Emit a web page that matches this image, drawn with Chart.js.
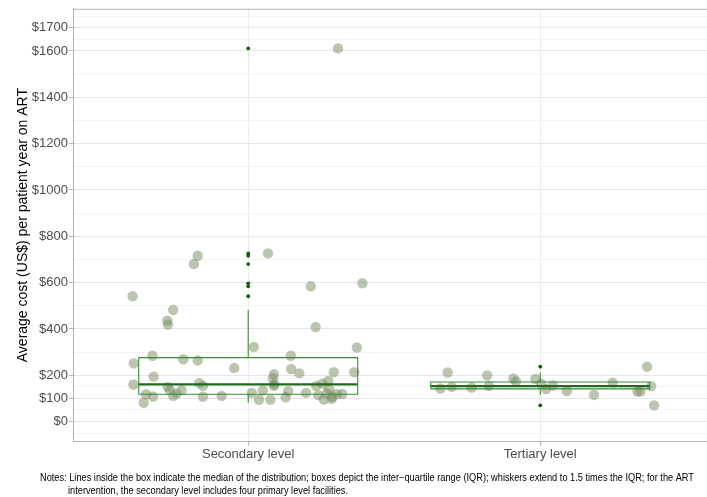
<!DOCTYPE html>
<html><head><meta charset="utf-8">
<script src="https://cdn.jsdelivr.net/npm/chart.js@4/dist/chart.umd.min.js"></script>
<style>html,body{margin:0;padding:0;background:#fff}#wrap{position:relative;width:707px;height:497px}</style>
</head><body><div id="wrap"><canvas id="c" width="707" height="497"></canvas></div>
<script>
// ---- data ----
const categories = ['Secondary level', 'Tertiary level'];
const yTickValues = [0, 100, 200, 400, 600, 800, 1000, 1200, 1400, 1600, 1700];
const yMinorValues = [-50, 50, 150, 300, 500, 700, 900, 1100, 1300, 1500, 1650, 1750];

// jittered observations (cost in US$, horizontal jitter in category units)
const secondaryCost = [716, 680, 541, 482, 436, 419, 284, 251, 269, 264, 231, 194, 160, 167, 154, 150, 135, 135, 121, 111, 118, 108, 107, 111, 81,
  726, 584, 597, 408, 322, 320, 284, 227, 208, 213, 213, 205, 186, 162, 154, 175, 164, 154, 140, 124, 134, 131, 124, 114, 121, 118, 119, 94, 95, 105, 95, 98, 107, 1611];
const secondaryJitter = [-0.173, -0.186, -0.396, -0.257, -0.277, -0.275, -0.328, -0.392, -0.222, -0.173, -0.048, -0.324, -0.393, -0.168, -0.155, -0.276, -0.268, -0.228, -0.245, -0.257, -0.350, -0.326, -0.155, -0.091, -0.358,
  0.068, 0.214, 0.391, 0.231, 0.019, 0.372, 0.146, 0.147, 0.175, 0.293, 0.363, 0.088, 0.084, 0.089, 0.088, 0.274, 0.254, 0.233, 0.277, 0.012, 0.050, 0.137, 0.198, 0.240, 0.269, 0.303, 0.322, 0.037, 0.076, 0.128, 0.259, 0.286, 0.288, 0.307];
const tertiaryCost = [212, 143, 150, 147, 199, 154, 186, 173, 184, 164, 140, 156, 132, 115, 168, 130, 130, 237, 153, 70];
const tertiaryJitter = [-0.317, -0.342, -0.303, -0.235, -0.182, -0.176, -0.092, -0.083, -0.017, 0.003, 0.020, 0.043, 0.091, 0.184, 0.248, 0.333, 0.343, 0.366, 0.380, 0.390];

// box plot statistics per category
const boxQ1 = [118, 141];
const boxMedian = [161, 153];
const boxQ3 = [276, 171];
const whiskerLow = [81, 115];
const whiskerHigh = [482, 212];
const outliers = [[1611, 726, 716, 680, 597, 584, 541], [237, 70]];

const notesLines = [
  'Notes: Lines inside the box indicate the median of the distribution; boxes depict the inter\u2212quartile range (IQR); whiskers extend to 1.5 times the IQR; for the ART',
  'intervention, the secondary level includes four primary level facilities.'
];

// ---- build datasets ----
const FONT = "'Liberation Sans', Arial, Helvetica, sans-serif";
const HALF = 0.375;
const boxColor = '#3b8a3b';
const datasets = [];

const jitterSets = [[secondaryCost, secondaryJitter], [tertiaryCost, tertiaryJitter]];
jitterSets.forEach(([cost, jit], i) => {
  datasets.push({
    type: 'scatter', order: 3,
    data: cost.map((v, k) => ({ x: i + 1 + jit[k], y: v })),
    pointRadius: 5.2, pointBorderWidth: 0,
    backgroundColor: 'rgba(120,140,98,0.5)', borderColor: 'rgba(0,0,0,0)'
  });
});

categories.forEach((c, i) => {
  const x = i + 1;
  datasets.push({ type: 'scatter', order: 2, showLine: true, pointRadius: 0, borderColor: boxColor, borderWidth: 1.1,
    data: [{x: x - HALF, y: boxQ1[i]}, {x: x + HALF, y: boxQ1[i]}, {x: x + HALF, y: boxQ3[i]}, {x: x - HALF, y: boxQ3[i]}, {x: x - HALF, y: boxQ1[i]}] });
  datasets.push({ type: 'scatter', order: 2, showLine: true, pointRadius: 0, borderColor: '#1d6b1d', borderWidth: 2.2,
    data: [{x: x - HALF, y: boxMedian[i]}, {x: x + HALF, y: boxMedian[i]}] });
  datasets.push({ type: 'scatter', order: 2, showLine: true, pointRadius: 0, borderColor: boxColor, borderWidth: 1.1,
    data: [{x: x, y: boxQ3[i]}, {x: x, y: whiskerHigh[i]}] });
  datasets.push({ type: 'scatter', order: 2, showLine: true, pointRadius: 0, borderColor: boxColor, borderWidth: 1.1,
    data: [{x: x, y: boxQ1[i]}, {x: x, y: whiskerLow[i]}] });
  datasets.push({ type: 'scatter', order: 1, pointRadius: 1.9, pointBorderWidth: 0,
    backgroundColor: '#0a630a', borderColor: '#0a630a',
    data: outliers[i].map(v => ({x: x, y: v})) });
});

const majorSet = new Set(yTickValues);
const allY = yTickValues.concat(yMinorValues).sort((a, b) => a - b);

const framePlugin = {
  id: 'frame',
  afterDraw(chart) {
    const {ctx, chartArea} = chart;
    ctx.save();
    ctx.strokeStyle = '#b3b3b3';
    ctx.lineWidth = 1;
    ctx.beginPath();
    ctx.moveTo(chartArea.left, chartArea.top + 0.5);
    ctx.lineTo(chartArea.right, chartArea.top + 0.5);
    ctx.stroke();
    // notes
    ctx.fillStyle = '#000';
    ctx.textBaseline = 'middle';
    ctx.font = "10px 'Liberation Sans Narrow', 'Liberation Sans', Arial, sans-serif";
    const target = 654;
    const w = ctx.measureText(notesLines[0]).width;
    const s = target / w;
    ctx.save(); ctx.translate(40, 478); ctx.scale(s, 1); ctx.fillText(notesLines[0], 0, 0); ctx.restore();
    ctx.save(); ctx.translate(68, 491); ctx.scale(s, 1); ctx.fillText(notesLines[1], 0, 0); ctx.restore();
    ctx.restore();
  }
};

new Chart(document.getElementById('c'), {
  type: 'scatter',
  data: { datasets },
  plugins: [framePlugin],
  options: {
    responsive: false, animation: false,
    layout: { autoPadding: false, padding: { top: 7, right: 0, bottom: 0, left: 0 } },
    plugins: { legend: { display: false }, tooltip: { enabled: false } },
    scales: {
      x: {
        type: 'linear', min: 0.4, max: 2.571,
        afterBuildTicks: s => { s.ticks = categories.map((c, i) => ({ value: i + 1 })); },
        afterFit: s => { s.height = 55.5; },
        ticks: { autoSkip: false, padding: 1, color: '#4d4d4d', font: { family: FONT, size: 13 },
          callback: v => categories[Math.round(v) - 1] },
        grid: { color: '#ebebeb', lineWidth: 1, tickLength: 4, tickColor: '#b3b3b3' },
        border: { display: true, color: '#b3b3b3', width: 1 }
      },
      y: {
        type: 'linear', min: -86, max: 1782,
        afterBuildTicks: s => { s.ticks = allY.map(v => ({ value: v })); },
        afterFit: s => { s.width = 73; },
        ticks: { autoSkip: false, padding: 1, color: '#4d4d4d', font: { family: FONT, size: 13 },
          callback: v => majorSet.has(v) ? '$' + v : '' },
        grid: {
          color: c => majorSet.has(c.tick && c.tick.value) ? '#e6e6e6' : '#f3f3f3',
          lineWidth: 1, tickLength: 4,
          tickColor: c => majorSet.has(c.tick && c.tick.value) ? '#b3b3b3' : 'rgba(0,0,0,0)'
        },
        border: { display: true, color: '#b3b3b3', width: 1 },
        title: { display: true, text: 'Average cost (US$) per patient year on ART', color: '#000',
          font: { family: FONT, size: 14 }, padding: { top: 15, bottom: 0 } }
      }
    }
  }
});
</script></body></html>
